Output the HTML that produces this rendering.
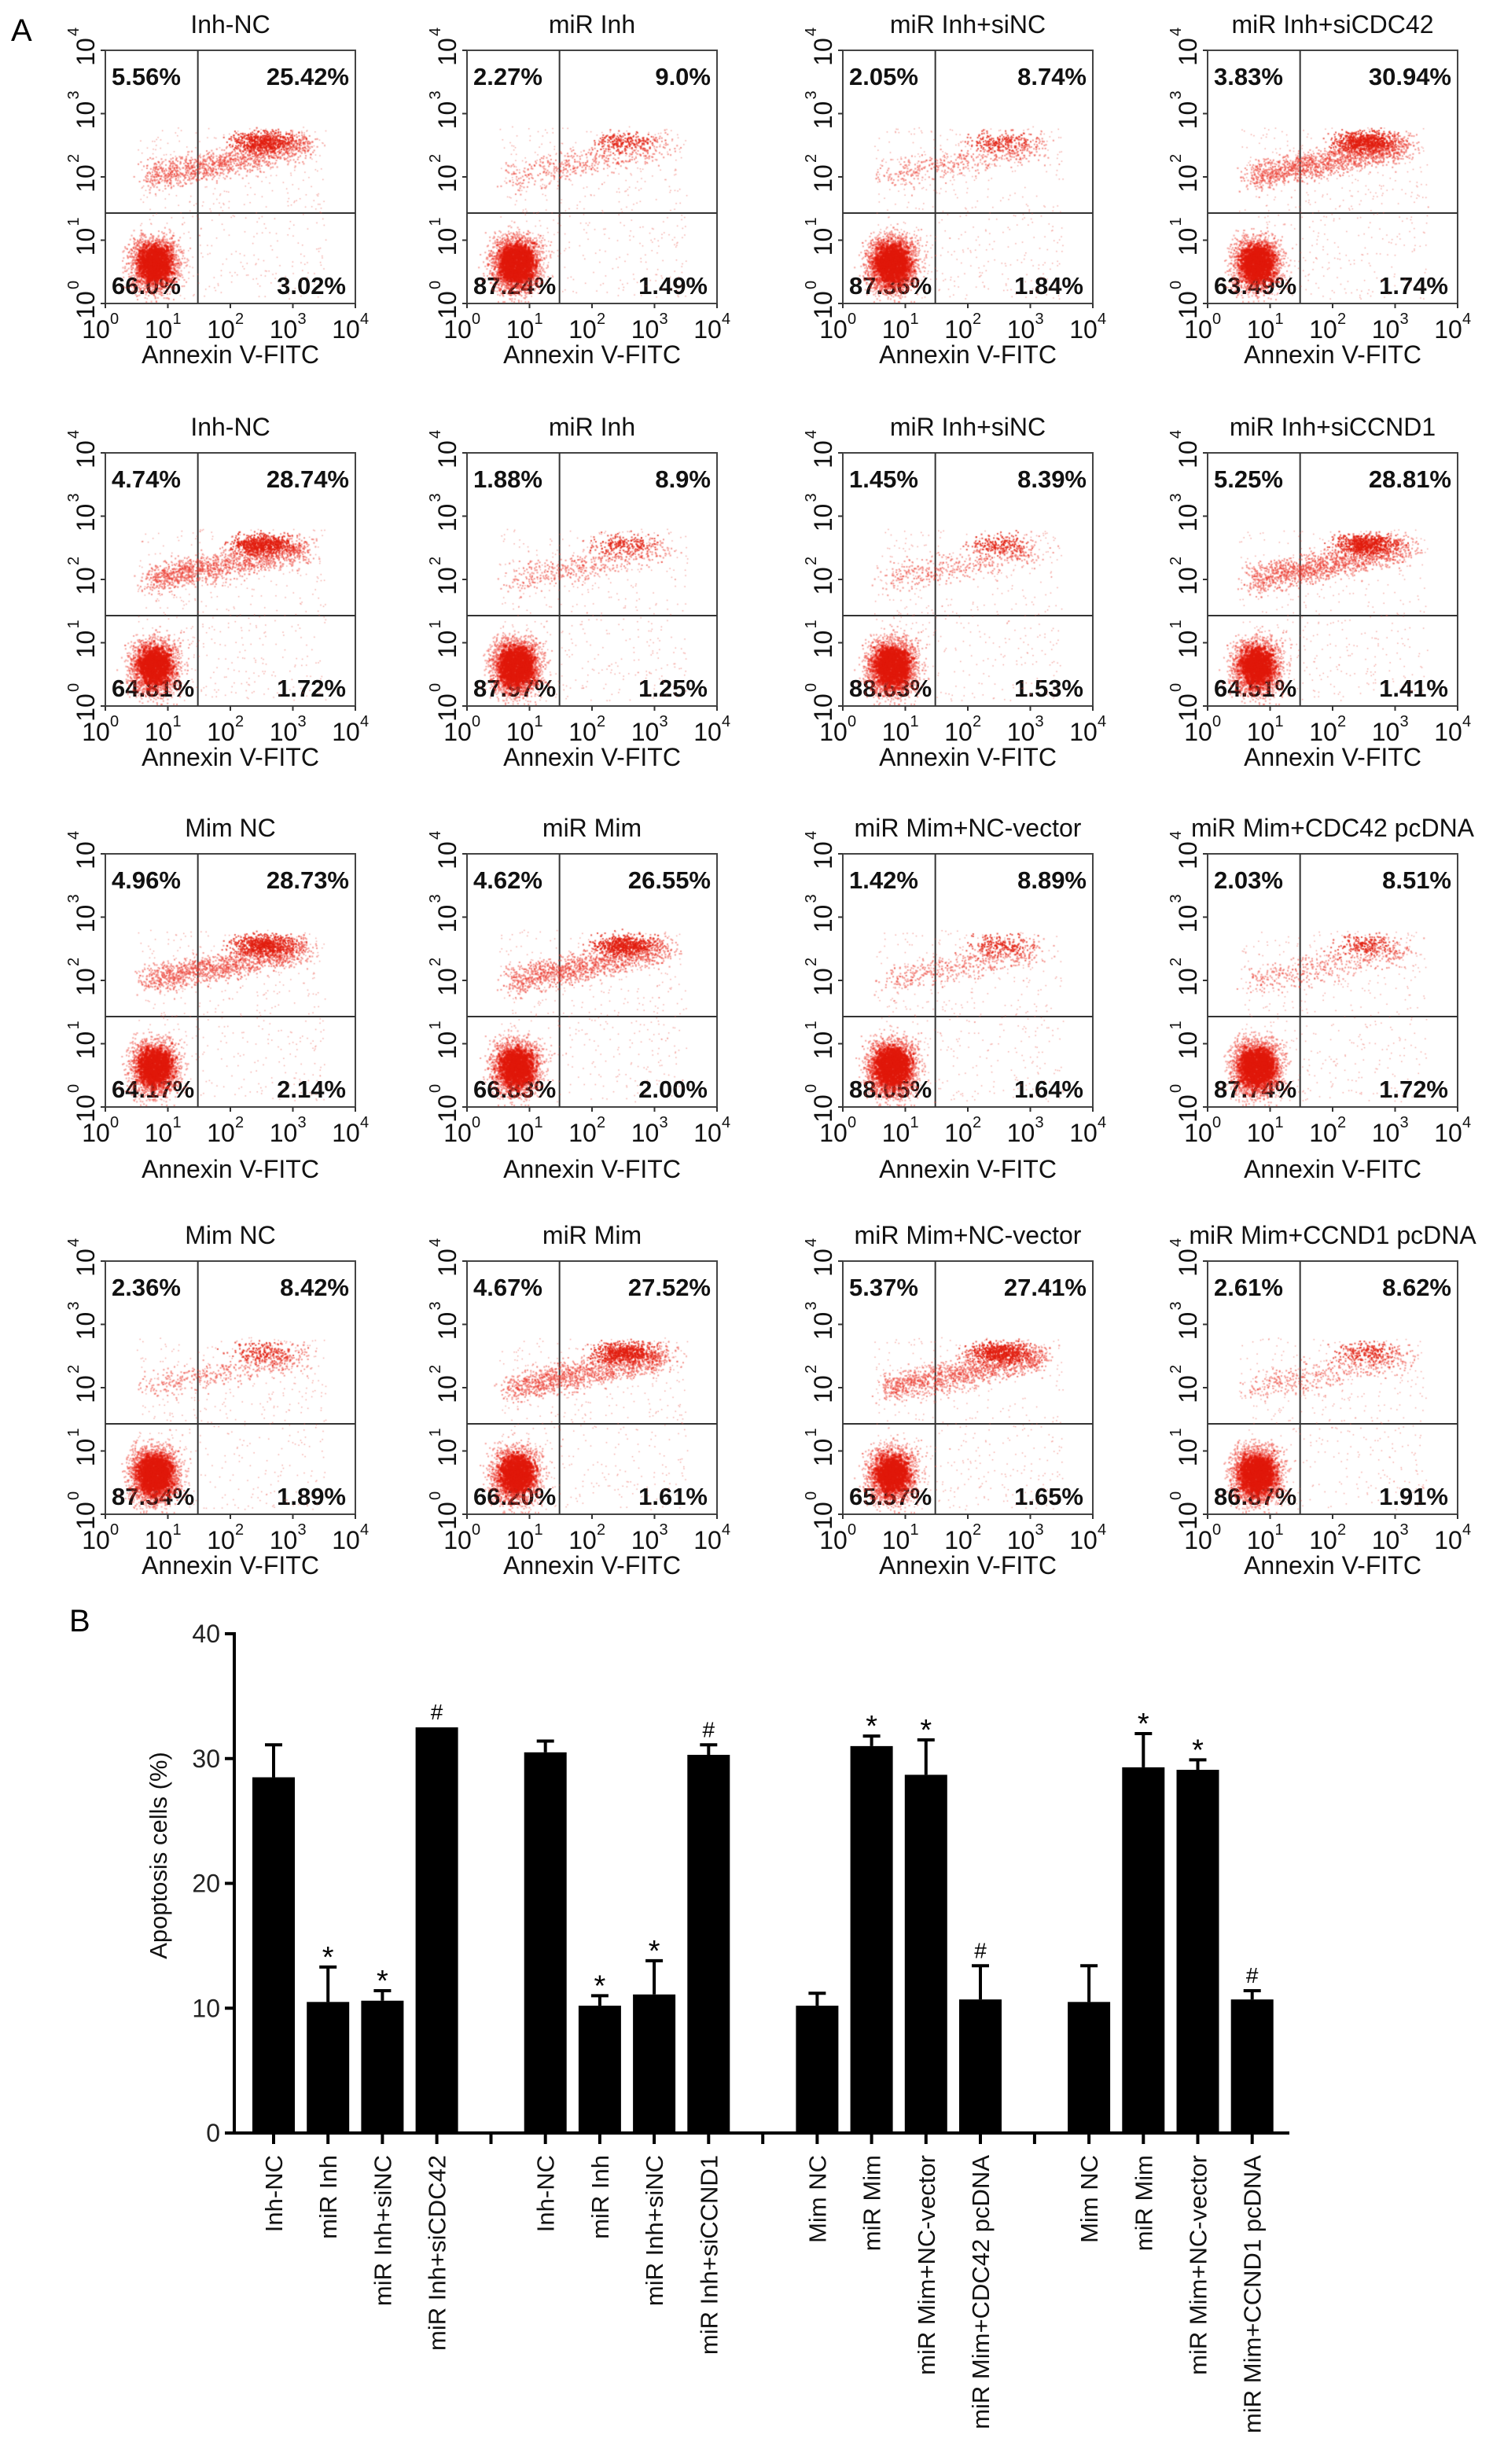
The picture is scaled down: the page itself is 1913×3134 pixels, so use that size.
<!DOCTYPE html>
<html><head><meta charset="utf-8">
<style>
html,body{margin:0;padding:0;background:#fff;}
body{width:1913px;height:3134px;position:relative;overflow:hidden;font-family:"Liberation Sans",Arial,sans-serif;}
svg{position:absolute;left:0;top:0;}
canvas{position:absolute;}
</style></head>
<body>
<svg id="fig" width="1913" height="3134">
  <text x="14" y="52" font-size="40" font-family="Liberation Sans">A</text>
  <text x="88" y="2075" font-size="40" font-family="Liberation Sans">B</text>
</svg>
<script>
// ===== Flow panels data =====
const flowTitles = [
 ["Inh-NC","miR Inh","miR Inh+siNC","miR Inh+siCDC42"],
 ["Inh-NC","miR Inh","miR Inh+siNC","miR Inh+siCCND1"],
 ["Mim NC","miR Mim","miR Mim+NC-vector","miR Mim+CDC42 pcDNA"],
 ["Mim NC","miR Mim","miR Mim+NC-vector","miR Mim+CCND1 pcDNA"]
];
// [UL, UR, LL, LR] labels
const flowPct = [
 [["5.56%","25.42%","66.0%","3.02%"],["2.27%","9.0%","87.24%","1.49%"],["2.05%","8.74%","87.36%","1.84%"],["3.83%","30.94%","63.49%","1.74%"]],
 [["4.74%","28.74%","64.81%","1.72%"],["1.88%","8.9%","87.97%","1.25%"],["1.45%","8.39%","88.63%","1.53%"],["5.25%","28.81%","64.51%","1.41%"]],
 [["4.96%","28.73%","64.17%","2.14%"],["4.62%","26.55%","66.83%","2.00%"],["1.42%","8.89%","88.05%","1.64%"],["2.03%","8.51%","87.74%","1.72%"]],
 [["2.36%","8.42%","87.34%","1.89%"],["4.67%","27.52%","66.20%","1.61%"],["5.37%","27.41%","65.57%","1.65%"],["2.61%","8.62%","86.87%","1.91%"]]
];
const rowTops = [64, 576, 1086, 1604];
const colLefts = [134, 594, 1072, 1536];
const xlabelGap = [70, 70, 84, 70];

const NS = "http://www.w3.org/2000/svg";
const svg = document.getElementById('fig');
function mk(tag, attrs, parent){ const e=document.createElementNS(NS,tag); for(const k in attrs) e.setAttribute(k,attrs[k]); (parent||svg).appendChild(e); return e; }
function txt(x,y,s,size,opts){ const e=mk('text',Object.assign({x:x,y:y,'font-size':size,'font-family':'Liberation Sans','fill':'#111'},opts||{})); e.textContent=s; return e; }

let seed=12345;
function rnd(){ seed=(seed*1103515245+12345)&0x7fffffff; return seed/0x7fffffff; }
function gauss(){ return (rnd()+rnd()+rnd()+rnd()-2)/1.15; }

const W=318,H=322;
for(let r=0;r<4;r++){
 for(let c=0;c<4;c++){
  const bx=colLefts[c], by=rowTops[r];
  const pct=flowPct[r][c];
  const g=mk('g',{});
  
  
  const cv=document.createElement('canvas');
  cv.width=W; cv.height=H; cv.style.left=bx+'px'; cv.style.top=by+'px';
  
  
  document.body.appendChild(cv);
  const ctx=cv.getContext('2d');
  const ur=parseFloat(pct[1]);
  const ll=parseFloat(pct[2]);
  // bottom-left cluster (broad, smeared to floor)
  ctx.fillStyle='rgba(235,50,40,0.45)';
  for(let i=0;i<Math.round(ll*40);i++){
    const x=62+gauss()*30, y=H-50+gauss()*34;
    ctx.fillRect(x,Math.min(y,H-3),2,2);
  }
  ctx.fillStyle='rgba(225,25,10,0.85)';
  for(let i=0;i<Math.round(ll*14);i++){
    const x=62+gauss()*18, y=H-52+gauss()*20;
    ctx.fillRect(x,Math.min(y,H-3),3,3);
  }
  // upper band
  ctx.fillStyle='rgba(235,60,50,0.55)';
  const nUR=Math.round(ur*50);
  for(let i=0;i<nUR;i++){
    const t=rnd();
    const x=55+t*200+gauss()*18, y=H*0.5-t*40+gauss()*18;
    ctx.fillRect(x,y,2,2);
  }
  ctx.fillStyle='rgba(225,30,15,0.75)';
  for(let i=0;i<Math.round(nUR*0.5);i++){
    const x=200+gauss()*38, y=H*0.36+gauss()*13;
    ctx.fillRect(x,y,2,2);
  }
  ctx.fillStyle='rgba(235,90,80,0.5)';
  for(let i=0;i<450;i++){
    const x=40+rnd()*240, y=H*0.3+rnd()*H*0.68;
    ctx.fillRect(x,y,1.5,1.5);
  }
  mk('rect',{x:bx,y:by,width:W,height:H,fill:'none',stroke:'#444','stroke-width':2},g);
  const qx=bx+W*0.37, qy=by+H*0.643;
  mk('line',{x1:qx,y1:by,x2:qx,y2:by+H,stroke:'#333','stroke-width':2},g);
  mk('line',{x1:bx,y1:qy,x2:bx+W,y2:qy,stroke:'#333','stroke-width':2},g);
  for(let k=0;k<=4;k++){
    const tx=bx+W*k/4, ty=by+H-H*k/4;
    mk('line',{x1:tx,y1:by+H,x2:tx,y2:by+H+6,stroke:'#333','stroke-width':2},g);
    mk('line',{x1:bx-6,y1:ty,x2:bx,y2:ty,stroke:'#333','stroke-width':2},g);
    const xl=txt(tx-12,by+H+44,'10',32,{'text-anchor':'middle'}); g.appendChild(xl);
    const sx=txt(tx+6,by+H+26,String(k),20); g.appendChild(sx);
    const yl=txt(0,0,'10',32,{'text-anchor':'middle',transform:'translate('+(bx-14)+','+(ty+2)+') rotate(-90)'}); g.appendChild(yl);
    const sy=txt(0,0,String(k),20,{transform:'translate('+(bx-34)+','+(ty-18)+') rotate(-90)'}); g.appendChild(sy);
  }
  const ttl=txt(bx+W*0.5,by-22,flowTitles[r][c],32,{'text-anchor':'middle'});
    g.appendChild(ttl);
  const xt=txt(bx+W*0.5,by+H+xlabelGap[r]+6,'Annexin V-FITC',32,{'text-anchor':'middle'});
    g.appendChild(xt);
  const pos=[[bx+8,by+44,'start'],[bx+W-8,by+44,'end'],[bx+8,by+H-12,'start'],[bx+W-12,by+H-12,'end']];
  for(let q=0;q<4;q++){
    const p=txt(pos[q][0],pos[q][1],pct[q],31,{'font-weight':'bold','text-anchor':pos[q][2]});
      g.appendChild(p);
  }
 }
}

// ===== Bar chart data =====
const barCategories = ["Inh-NC","miR Inh","miR Inh+siNC","miR Inh+siCDC42",
 "Inh-NC","miR Inh","miR Inh+siNC","miR Inh+siCCND1",
 "Mim NC","miR Mim","miR Mim+NC-vector","miR Mim+CDC42 pcDNA",
 "Mim NC","miR Mim","miR Mim+NC-vector","miR Mim+CCND1 pcDNA"];
const barValues = [28.5,10.5,10.6,32.5, 30.5,10.2,11.1,30.3, 10.2,31.0,28.7,10.7, 10.5,29.3,29.1,10.7];
const barErrors = [2.6,2.8,0.8,0, 0.9,0.8,2.7,0.8, 1.0,0.8,2.8,2.7, 2.9,2.7,0.8,0.7];
const barMarks = ["","*","*","#", "","*","*","#", "","*","*","#", "","*","*","#"];
const yTicks = [0,10,20,30,40];

const axX=298, y0=2713, pxPerUnit=(2713-2078)/40;
function yS(v){ return y0 - v*pxPerUnit; }
function xS(i){ const grp=Math.floor(i/4), k=i%4; return 348 + grp*345.7 + k*69.2; }
const bw=54;
const bg=mk('g',{});
 
mk('line',{x1:axX,y1:yS(40)-2,x2:axX,y2:y0+2,stroke:'#000','stroke-width':4},bg);
mk('line',{x1:axX-2,y1:y0,x2:1640,y2:y0,stroke:'#000','stroke-width':4},bg);
yTicks.forEach(t=>{
  mk('line',{x1:axX-12,y1:yS(t),x2:axX,y2:yS(t),stroke:'#000','stroke-width':4},bg);
  const l=txt(axX-18,yS(t)+11,String(t),32,{'text-anchor':'end',fill:'#222'});
    bg.appendChild(l);
});
const yt=txt(0,0,'Apoptosis cells (%)',31,{'text-anchor':'middle',transform:'translate(212,2360) rotate(-90)'});
  bg.appendChild(yt);
for(let gI=1;gI<=3;gI++){
  const sx=xS(gI*4)-69.2;
  mk('line',{x1:sx,y1:y0,x2:sx,y2:y0+14,stroke:'#000','stroke-width':4},bg);
}
barValues.forEach((v,i)=>{
  const cx=xS(i);
  const b=mk('rect',{x:cx-bw/2,y:yS(v),width:bw,height:y0-yS(v),fill:'#000'},bg);
   
  const e=barErrors[i];
  if(e>0){
    mk('line',{x1:cx,y1:yS(v),x2:cx,y2:yS(v+e),stroke:'#000','stroke-width':4},bg);
    mk('line',{x1:cx-11,y1:yS(v+e),x2:cx+11,y2:yS(v+e),stroke:'#000','stroke-width':4},bg);
  }
  if(barMarks[i]){
    const star=barMarks[i]==='*';
    const m=txt(cx,yS(v+e)-(star?0:10),barMarks[i],star?38:28,{'text-anchor':'middle',fill:'#000'});
      bg.appendChild(m);
  }
  mk('line',{x1:cx,y1:y0,x2:cx,y2:y0+14,stroke:'#000','stroke-width':4},bg);
  const cl=txt(0,0,barCategories[i],31,{'text-anchor':'end',fill:'#111',transform:'translate('+(cx+11)+','+(y0+28)+') rotate(-90)'});
    bg.appendChild(cl);
});
</script>
</body></html>
